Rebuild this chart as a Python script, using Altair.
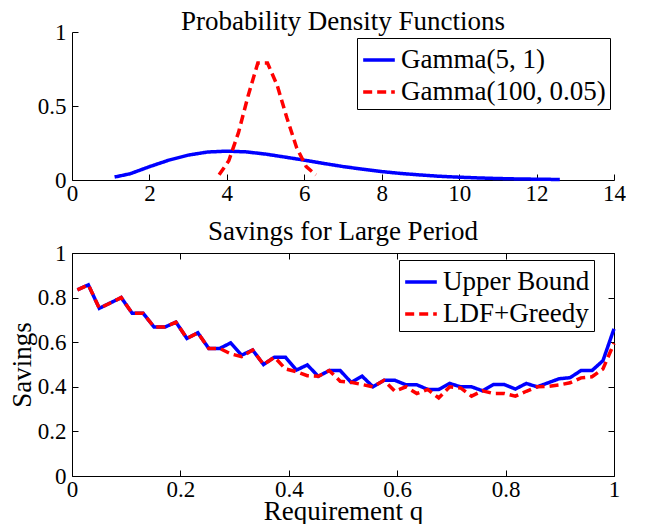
import altair as alt
import pandas as pd

# ---------------- data ----------------
pdf_names = ["Gamma(5, 1)", "Gamma(100, 0.05)"]
g1_x = [1.1, 1.5, 2.0, 2.5, 3.0, 3.5, 4.0, 4.5, 5.0, 5.5, 6.0, 6.5, 7.0, 7.5,
        8.0, 8.5, 9.0, 9.5, 10.0, 10.5, 11.0, 11.5, 12.0, 12.6]
g1_y = [0.020, 0.042, 0.090, 0.134, 0.168, 0.189, 0.195, 0.190, 0.175, 0.155,
        0.134, 0.112, 0.091, 0.073, 0.057, 0.044, 0.034, 0.025, 0.019, 0.014,
        0.010, 0.007, 0.0054, 0.0035]
g2_x = [3.8, 4.05, 4.3, 4.55, 4.8, 5.05, 5.3, 5.55, 5.8, 6.05, 6.3]
g2_y = [0.035, 0.13, 0.32, 0.57, 0.79, 0.79, 0.64, 0.42, 0.22, 0.09, 0.035]

sav_names = ["Upper Bound", "LDF+Greedy"]
q = [0.01, 0.0302, 0.0504, 0.0706, 0.0908, 0.111, 0.1312, 0.1514, 0.1716, 0.1918,
     0.212, 0.2322, 0.2524, 0.2726, 0.2928, 0.313, 0.3332, 0.3534, 0.3736, 0.3938,
     0.414, 0.4342, 0.4544, 0.4746, 0.4948, 0.515, 0.5352, 0.5554, 0.5756, 0.5958,
     0.616, 0.6362, 0.6564, 0.6766, 0.6968, 0.717, 0.7372, 0.7574, 0.7776, 0.7978,
     0.818, 0.8382, 0.8584, 0.8786, 0.8988, 0.919, 0.9392, 0.9594, 0.9796, 1.0]
upper = [0.835, 0.857, 0.752, 0.776, 0.80, 0.73, 0.73, 0.668, 0.668, 0.69,
         0.617, 0.642, 0.572, 0.572, 0.597, 0.542, 0.565, 0.50, 0.533, 0.533,
         0.475, 0.498, 0.447, 0.473, 0.473, 0.42, 0.448, 0.40, 0.429, 0.429,
         0.409, 0.409, 0.388, 0.388, 0.415, 0.40, 0.40, 0.382, 0.41, 0.41,
         0.39, 0.415, 0.40, 0.418, 0.436, 0.441, 0.473, 0.473, 0.517, 0.66]
ldf = [0.835, 0.857, 0.752, 0.776, 0.80, 0.73, 0.73, 0.668, 0.668, 0.69,
       0.617, 0.642, 0.572, 0.572, 0.548, 0.535, 0.565, 0.50, 0.533, 0.48,
       0.468, 0.45, 0.447, 0.473, 0.425, 0.42, 0.41, 0.40, 0.429, 0.38,
       0.40, 0.37, 0.388, 0.35, 0.40, 0.395, 0.358, 0.382, 0.37, 0.37,
       0.358, 0.38, 0.40, 0.402, 0.408, 0.418, 0.44, 0.445, 0.48, 0.595]

top_xticks = [0, 2, 4, 6, 8, 10, 12, 14]
top_yticks = [0, 0.5, 1]
bot_ticks = [0, 0.2, 0.4, 0.6, 0.8, 1]

# ---------------- style ----------------
FONT = "Liberation Serif"
W = 542
H1 = 148
H2 = 223
COLORS = ["#0000ff", "#ff0000"]
DASHES = [[1, 0], [9, 5]]

top_df = pd.DataFrame({
    "x": g1_x + g2_x,
    "y": g1_y + g2_y,
    "s": [pdf_names[0]] * len(g1_x) + [pdf_names[1]] * len(g2_x),
})
bot_df = pd.DataFrame({
    "x": q + q,
    "y": upper + ldf,
    "s": [sav_names[0]] * len(q) + [sav_names[1]] * len(q),
})


def label_axis(values, title=None, orient="bottom"):
    kw = dict(orient=orient, values=values, ticks=False, domain=True,
              domainColor="black", domainWidth=1, grid=False,
              labelFont=FONT, labelFontSize=23, labelColor="black",
              labelPadding=(6 if orient == "left" else 2), format="~g",
              labelFlush=False,
              titleFont=FONT, titleFontSize=27, titleFontWeight="normal",
              titleColor="black", titlePadding=(1 if orient == "left" else -3))
    kw["title"] = title if title else None
    return alt.Axis(**kw)


def tick_axis(values, orient, offset, domain=False):
    return alt.Axis(orient=orient, offset=offset, values=values, labels=False,
                    ticks=True, tickSize=6, tickColor="black", tickWidth=1,
                    domain=domain, domainColor="black", domainWidth=1,
                    grid=False, title=None)


def legend(x, y):
    return alt.Legend(orient="none", legendX=x, legendY=y, title=None,
                      labelFont=FONT, labelFontSize=27, labelColor="black",
                      labelLimit=400, symbolType="stroke", symbolStrokeWidth=3.5,
                      symbolSize=1000, strokeColor="black", fillColor="white",
                      padding=4, rowPadding=1, labelOffset=4)


# ---------------- top panel ----------------
xs_top = alt.Scale(domain=[0, 14], nice=False, zero=False)
ys_top = alt.Scale(domain=[0, 1], nice=False)
top_leg = legend(285, 6)
top_base = alt.Chart(top_df)
top_lines = top_base.mark_line(strokeWidth=3.5).encode(
    x=alt.X("x:Q", scale=xs_top, axis=label_axis(top_xticks)),
    y=alt.Y("y:Q", scale=ys_top, axis=label_axis(top_yticks, orient="left")),
    color=alt.Color("s:N", scale=alt.Scale(domain=pdf_names, range=COLORS),
                    legend=top_leg),
    strokeDash=alt.StrokeDash("s:N", scale=alt.Scale(domain=pdf_names, range=DASHES),
                              legend=top_leg),
)
top_ticks = top_base.mark_point(opacity=0).encode(
    x=alt.X("x:Q", scale=xs_top, axis=tick_axis(top_xticks, "top", -H1)),
    y=alt.Y("y:Q", scale=ys_top, axis=tick_axis(top_yticks, "right", -W)),
)
top = alt.layer(top_lines, top_ticks).resolve_axis(
    x="independent", y="independent"
).properties(
    width=W, height=H1,
    title=alt.TitleParams("Probability Density Functions", font=FONT, fontSize=27,
                          fontWeight="normal", color="black", offset=-15,
                          anchor="middle"),
)

# ---------------- bottom panel ----------------
xs_bot = alt.Scale(domain=[0, 1], nice=False, zero=False)
ys_bot = alt.Scale(domain=[0, 1], nice=False)
bot_leg = legend(327, 7)
bot_base = alt.Chart(bot_df)
bot_lines = bot_base.mark_line(strokeWidth=3.5).encode(
    x=alt.X("x:Q", scale=xs_bot, axis=label_axis(bot_ticks, "Requirement q")),
    y=alt.Y("y:Q", scale=ys_bot, axis=label_axis(bot_ticks, "Savings", orient="left")),
    color=alt.Color("s:N", scale=alt.Scale(domain=sav_names, range=COLORS),
                    legend=bot_leg),
    strokeDash=alt.StrokeDash("s:N", scale=alt.Scale(domain=sav_names, range=DASHES),
                              legend=bot_leg),
)
bot_ticks_a = bot_base.mark_point(opacity=0).encode(
    x=alt.X("x:Q", scale=xs_bot, axis=tick_axis(bot_ticks, "top", -H2)),
    y=alt.Y("y:Q", scale=ys_bot, axis=tick_axis(bot_ticks, "right", -W)),
)
bot_ticks_b = bot_base.mark_point(opacity=0).encode(
    x=alt.X("x:Q", scale=xs_bot, axis=tick_axis(bot_ticks, "bottom", -H2, domain=True)),
    y=alt.Y("y:Q", scale=ys_bot, axis=tick_axis(bot_ticks, "left", -W, domain=True)),
)
bottom = alt.layer(bot_lines, bot_ticks_a, bot_ticks_b).resolve_axis(
    x="independent", y="independent"
).properties(
    width=W, height=H2,
    title=alt.TitleParams("Savings for Large Period", font=FONT, fontSize=27,
                          fontWeight="normal", color="black", offset=-4,
                          anchor="middle"),
)

chart = alt.vconcat(top, bottom, spacing=13).resolve_scale(
    color="independent", strokeDash="independent"
).resolve_legend(color="independent", strokeDash="independent").configure_view(
    strokeWidth=0
).properties(
    padding={"left": 0, "top": 0, "right": 0, "bottom": 0},
    background="white",
)

chart.save("out.html", embed_options={"renderer": "svg", "actions": False})
